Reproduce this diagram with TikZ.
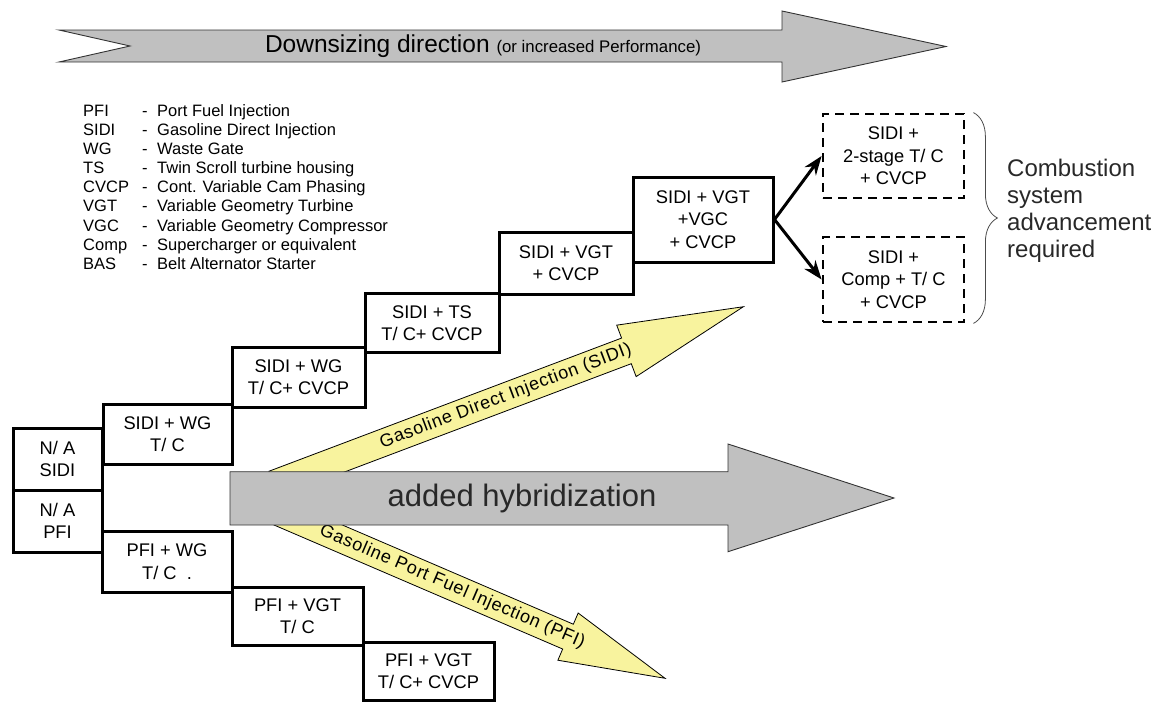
\documentclass[tikz,border=0pt]{standalone}
\usepackage{fontspec}
\setmainfont{Liberation Sans}
\newfontfamily\injfamily[LetterSpace=4]{Liberation Sans}
\usetikzlibrary{arrows.meta}
\usetikzlibrary{decorations.pathreplacing}
\definecolor{bargray}{RGB}{192,192,192}
\definecolor{fuelyellow}{RGB}{248,243,158}
\definecolor{labelgray}{RGB}{40,40,40}
\newcommand{\stagefont}{\fontsize{18.3}{22.5}\selectfont}
\newcommand{\legendfont}{\fontsize{16.5}{19.1}\selectfont}
\tikzstyle{stage} = [draw, line width=3pt, inner sep=0pt,
align=center, font=\stagefont]
\tikzstyle{future} = [stage, line width=2.8pt, dash pattern=on 9pt off 6pt]
\tikzstyle{arrow} = [line width=3pt, -{Stealth[length=19pt,width=14pt]}]
\tikzstyle{block} = [fill=bargray, draw=black!80, line width=0.9pt]
\tikzstyle{fuel} = [fill=fuelyellow, draw=black, line width=0.8pt]
\tikzstyle{inj} = [font=\injfamily\fontsize{18}{21}\selectfont]

\begin{document}
\begin{tikzpicture}[x=1pt, y=-1pt] % one unit = one pixel
\useasboundingbox (0,0) rectangle (1157,702);

% downsizing direction
\filldraw[block] (59,30) -- (782,30) -- (782,11) -- (946,46.5) -- (782,82)
  -- (782,62) -- (59,62) -- (130,46) -- cycle;
\node[font=\fontsize{24.5}{28}\selectfont] (downsize) at (483,46)
  {Downsizing direction {\fontsize{16.8}{20}\selectfont(or increased Performance)}};

% abbreviations
\node[anchor=west, inner sep=0pt, font=\legendfont] (legend) at (83,189) {%
  \begin{tabular}{@{}p{59pt}@{}p{15pt}@{}l@{}}
  PFI & - & Port Fuel Injection\\
  SIDI & - & Gasoline Direct Injection\\
  WG & - & Waste Gate\\
  TS & - & Twin Scroll turbine housing\\
  CVCP & - & Cont. Variable Cam Phasing\\
  VGT & - & Variable Geometry Turbine\\
  VGC & - & Variable Geometry Compressor\\
  Comp & - & Supercharger or equivalent\\
  BAS & - & Belt Alternator Starter
  \end{tabular}};

% injection arrows (tails go under the grey arrow)
\begin{scope}[shift={(306.5,471.7)}, rotate=20.69]
  \filldraw[fuel] (-35,-13.7) -- (342,-13.7) -- (342,-27.5) -- (467,0)
    -- (342,27.5) -- (342,13.7) -- (-35,13.7) -- cycle;
  \node[inj, rotate=20.69] (sidi) at (213,0) {Gasoline Direct Injection (SIDI)};
\end{scope}
\begin{scope}[shift={(305.9,524)}, rotate=-23.25]
  \filldraw[fuel] (-35,-13.5) -- (285.3,-13.5) -- (285.3,-25.7) -- (390.9,0)
    -- (285.3,25.7) -- (285.3,13.5) -- (-35,13.5) -- cycle;
  \node[inj, rotate=-23.25] (pfi) at (159.3,0) {Gasoline Port Fuel Injection (PFI)};
\end{scope}

% hybridization
\filldraw[block] (230,471.7) -- (728,471.7) -- (728,444) -- (894,498)
  -- (728,551.7) -- (728,525) -- (230,525) -- cycle;
\node[font=\fontsize{31}{36}\selectfont, text=labelgray] (hybrid) at (522,498)
  {added hybridization};

% SIDI steps
\node[stage, minimum width=89pt, minimum height=62pt] (nasidi) at (57.5,459) {N/ A\\SIDI};
\node[stage, minimum width=129pt, minimum height=60pt] (sidiwg) at (167.5,434) {SIDI + WG\\T/ C};
\node[stage, minimum width=133pt, minimum height=60pt] (sidiwgcvcp) at (298.5,377) {SIDI + WG\\T/ C+ CVCP};
\node[stage, minimum width=134pt, minimum height=59pt] (sidits) at (432,323) {SIDI + TS\\T/ C+ CVCP};
\node[stage, minimum width=134pt, minimum height=62pt] (sidivgt) at (566,263) {SIDI + VGT\\+ CVCP};
\node[stage, minimum width=140pt, minimum height=85pt] (sidivgc) at (703,219.5) {SIDI + VGT\\+VGC\\+ CVCP};

% PFI steps
\node[stage, minimum width=89pt, minimum height=62pt] (napfi) at (57.5,521) {N/ A\\PFI};
\node[stage, minimum width=130pt, minimum height=61pt] (pfiwg) at (167,561.5) {PFI + WG\\T/ C\ \ .};
\node[stage, minimum width=131pt, minimum height=58pt] (pfivgt) at (297.5,616) {PFI + VGT\\T/ C};
\node[stage, minimum width=131pt, minimum height=58pt] (pfivgtcvcp) at (428.5,671) {PFI + VGT\\T/ C+ CVCP};

% next steps
\node[future, minimum width=141pt, minimum height=84pt] (twostage) at (893.5,156) {SIDI +\\2-stage T/ C\\+ CVCP};
\node[future, minimum width=141pt, minimum height=85pt] (compstage) at (893.5,279.5) {SIDI +\\Comp + T/ C\\+ CVCP};
\draw[arrow] (sidivgc.east) -- (twostage.west);
\draw[arrow] (sidivgc.east) -- (compstage.west);

\draw[decorate, decoration={brace, amplitude=24pt}, draw=black!70, line width=0.8pt]
  ([xshift=8pt]twostage.north east) -- ([xshift=8pt]compstage.south east);
\node[anchor=west, inner sep=0pt, align=left, font=\fontsize{24}{27}\selectfont,
  text=labelgray] (combustion) at (1007,211)
  {Combustion\\system\\advancement\\required};
\end{tikzpicture}
\end{document}
